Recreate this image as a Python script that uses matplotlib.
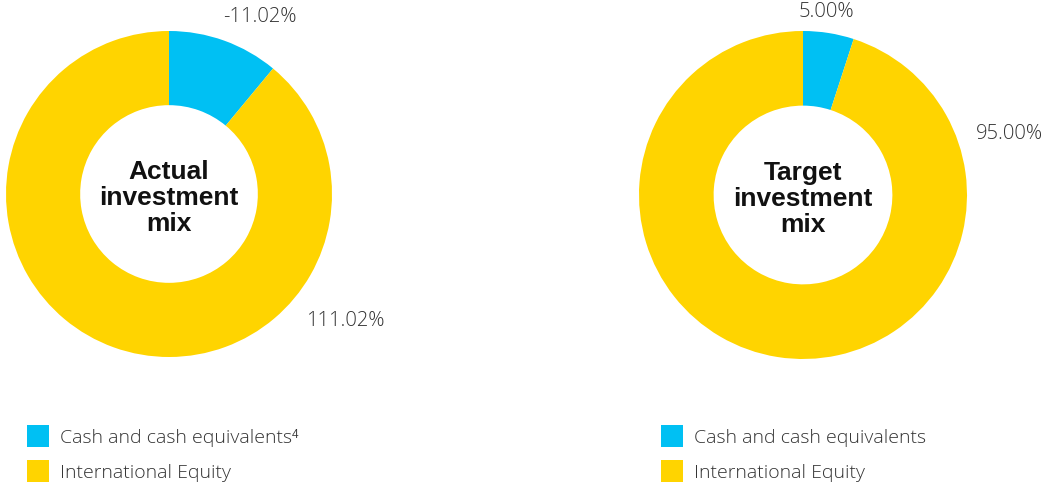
import matplotlib
matplotlib.use('Agg')
import matplotlib.pyplot as plt
from matplotlib.patches import Rectangle

plt.rcParams['font.family'] = ['Open Sans', 'DejaVu Sans']

# data
categories = ['Cash and cash equivalents', 'International Equity']
actual_values = [-11.02, 111.02]
target_values = [5.00, 95.00]
actual_title = 'Actual\ninvestment\nmix'
target_title = 'Target\ninvestment\nmix'
actual_legend = ['Cash and cash equivalents\u2074', 'International Equity']
target_legend = ['Cash and cash equivalents', 'International Equity']
colors = ['#00C0F3', '#FFD400']

W, H = 1049, 485
fig = plt.figure(figsize=(W / 100, H / 100), dpi=100)


def donut(cx, cy, r, values, title, label_pos):
    ax = fig.add_axes([(cx - r) / W, (H - cy - r) / H, 2 * r / W, 2 * r / H])
    # the first slice takes its share of 100, the rest fills the ring
    first = abs(values[0])
    sizes = [first, 100 - first]
    ax.pie(sizes, colors=colors, startangle=90, counterclock=False,
           radius=1, wedgeprops=dict(width=0.455, linewidth=0))
    ax.set_xlim(-1, 1)
    ax.set_ylim(-1, 1)
    ax.set_aspect('equal')
    ax.axis('off')
    ax.text(0, -0.02, title, ha='center', va='center', fontsize=19,
            fontweight='bold', color='#111111', linespacing=1.1,
            family=['Liberation Sans', 'DejaVu Sans'])
    for v, (x, y) in zip(values, label_pos):
        ax.text(x, y, '%.2f%%' % v, ha='center', va='center', fontsize=14.5,
                fontweight='light', color='#333333')
    return ax


donut(169, 195, 163, actual_values, actual_title, [(0.56, 1.09), (1.08, -0.77)])
donut(803, 196, 164, target_values, target_title, [(0.14, 1.12), (1.26, 0.38)])


def legend(x0, labels):
    for i, (lab, c) in enumerate(zip(labels, colors)):
        y = 426 + i * 35
        fig.add_artist(Rectangle((x0 / W, 1 - (y + 22) / H), 22 / W, 22 / H,
                                 transform=fig.transFigure, color=c, lw=0))
        fig.text((x0 + 33) / W, 1 - (y + 12) / H, lab, ha='left', va='center',
                 fontsize=14, fontweight='light', color='#333333')


legend(27, actual_legend)
legend(661, target_legend)

fig.savefig('out.png', dpi=100, facecolor='white')
